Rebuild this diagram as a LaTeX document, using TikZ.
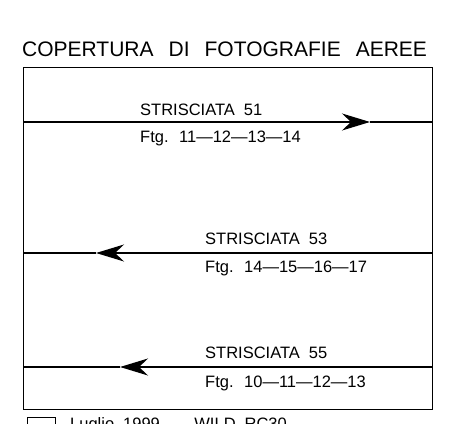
\documentclass[tikz,border=0pt]{standalone}
\usepackage{fontspec}
\setmainfont{Liberation Sans}
\usetikzlibrary{arrows.meta}
\newcommand\titolofont{\fontsize{21}{25}\selectfont\spaceskip 15pt\relax}
\newcommand\stripfont{\fontsize{16.5}{19}\selectfont\spaceskip 9pt\relax}

\begin{document}
\begin{tikzpicture}[x=1pt, y=1pt,
  every node/.style = {inner sep=0pt, anchor=base west},
  title/.style = {font=\titolofont},
  striptext/.style = {font=\stripfont},
  strip/.style = {line width=1.3pt},
  tip/.style = {strip, -{Stealth[length=28pt, width=17pt, inset=9pt]}},
  frame/.style = {draw, line width=1pt}]
  \useasboundingbox (0,0) rectangle (473,423);

  \node[title] (titolo) at (22,366) {COPERTURA DI FOTOGRAFIE AEREE};
  \draw[frame] (23,14) rectangle (432,355);
  \coordinate (sx) at (23,14);
  \coordinate (dx) at (432,14);

  % strisciata 51
  \coordinate (s51) at (sx |- 0,301);
  \coordinate (d51) at (dx |- 0,301);
  \coordinate (t51) at (370,301);
  \draw[tip] (s51) -- (t51);
  \draw[strip] (t51) -- (d51);
  \node[striptext] (n51) at (140,307) {STRISCIATA 51};
  \node[striptext] (f51) at (140,280) {Ftg. 11---12---13---14};

  % strisciata 53
  \coordinate (s53) at (sx |- 0,170);
  \coordinate (d53) at (dx |- 0,170);
  \coordinate (t53) at (96,170);
  \draw[tip] (d53) -- (t53);
  \draw[strip] (t53) -- (s53);
  \node[striptext] (n53) at (205,178) {STRISCIATA 53};
  \node[striptext] (f53) at (205,150) {Ftg. 14---15---16---17};

  % strisciata 55
  \coordinate (s55) at (sx |- 0,56);
  \coordinate (d55) at (dx |- 0,56);
  \coordinate (t55) at (120,56);
  \draw[tip] (d55) -- (t55);
  \draw[strip] (t55) -- (s55);
  \node[striptext] (n55) at (205,65) {STRISCIATA 55};
  \node[striptext] (f55) at (205,36) {Ftg. 10---11---12---13};

  % legenda
  \draw[frame] (27,6) rectangle (55,-10);
  \node[striptext] (leg) at (70,-6) {Luglio 1999 --- WILD RC30};
\end{tikzpicture}
\end{document}
